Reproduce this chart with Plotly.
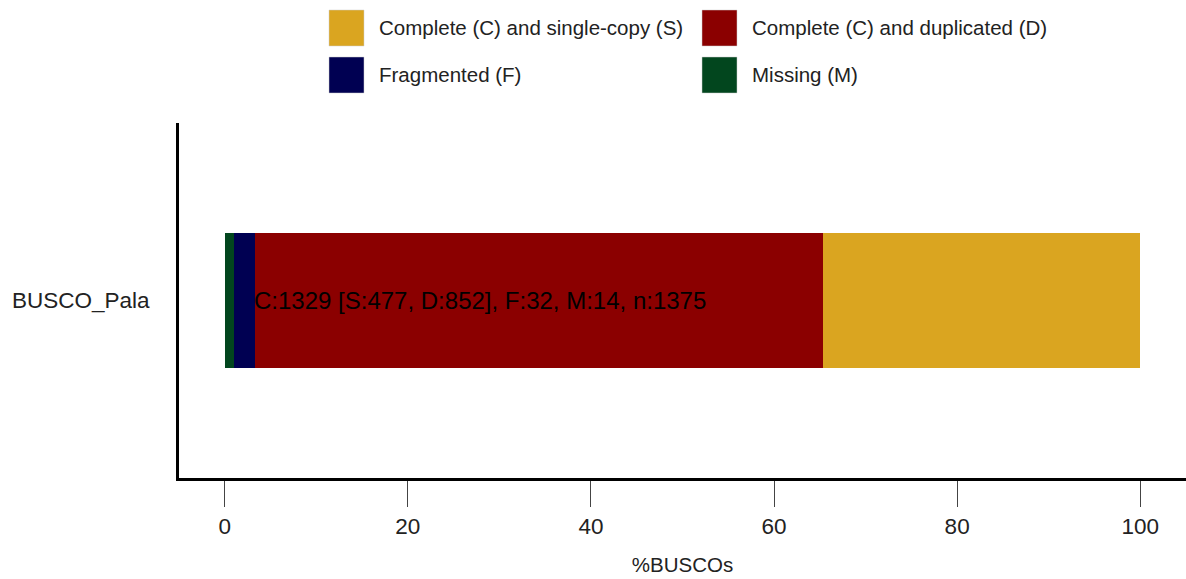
import plotly.graph_objects as go

# ---- data ----
species = ["BUSCO_Pala"]
categories = ["Missing (M)", "Fragmented (F)", "Complete (C) and duplicated (D)", "Complete (C) and single-copy (S)"]
counts = [14, 32, 852, 477]
total = 1375
colors = ["#02461E", "#000052", "#8B0000", "#DAA520"]
percent = [c / total * 100 for c in counts]
x_ticks = [0, 20, 40, 60, 80, 100]
summary = "C:1329 [S:477, D:852], F:32, M:14, n:1375"

W, H = 1186, 579
L, R, T, B = 179, 0, 123, 101
FONT = "Liberation Sans, Arial, sans-serif"

fig = go.Figure()
for name, val, col in zip(categories, percent, colors):
    fig.add_trace(go.Bar(
        y=species, x=[val], name=name, orientation="h",
        marker=dict(color=col, line=dict(width=0)),
        width=0.755, showlegend=False,
    ))

# bar label starts at left edge of the D segment
fig.add_annotation(
    x=percent[0] + percent[1], y=species[0], xref="x", yref="y",
    text=summary, showarrow=False, xanchor="left", yanchor="middle",
    font=dict(family=FONT, size=24, color="black"), xshift=-3,
)

# custom legend
pw, ph = W - L - R, H - T - B
def px_x(p): return (p - L) / pw
def px_y(p): return (H - B - p) / ph

legend_order = [3, 2, 1, 0]  # S, D, F, M
col_x = [329, 702]
row_y = [10, 57]
for i, idx in enumerate(legend_order):
    cx = col_x[i % 2]
    ry = row_y[i // 2]
    fig.add_shape(type="rect", xref="paper", yref="paper",
                  x0=px_x(cx), x1=px_x(cx + 35), y0=px_y(ry + 36), y1=px_y(ry),
                  fillcolor=colors[idx], line=dict(width=0.5, color="#cccccc"))
    fig.add_annotation(xref="paper", yref="paper", x=px_x(cx + 48), y=px_y(ry + 18),
                       text=categories[idx], showarrow=False, xanchor="left", yanchor="middle",
                       font=dict(family=FONT, size=20.5, color="#222222"))

fig.update_layout(
    width=W, height=H, barmode="stack",
    margin=dict(l=L, r=R, t=T, b=B),
    paper_bgcolor="white", plot_bgcolor="white",
    font=dict(family=FONT, color="#222222"),
    xaxis=dict(range=[-5, 105], tickvals=x_ticks, ticks="outside", ticklen=26,
               tickwidth=1, tickcolor="#444444", showline=True, linewidth=3,
               linecolor="black", showgrid=False, zeroline=False,
               tickfont=dict(size=22.5, color="#222222"),
               title=dict(text="%BUSCOs", font=dict(size=20.5, color="#222222"), standoff=20)),
    yaxis=dict(type="category", range=[-1, 1], showline=True, linewidth=3,
               linecolor="black", ticks="", showgrid=False, zeroline=False,
               tickfont=dict(size=22.5, color="#222222"), ticklabelstandoff=22),
)

fig.write_html("out.html")
